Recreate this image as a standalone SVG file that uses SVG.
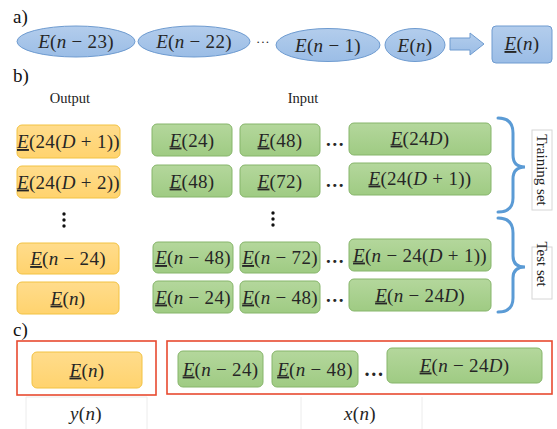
<svg xmlns="http://www.w3.org/2000/svg" width="557" height="429" viewBox="0 0 557 429">
<defs>
<linearGradient id="gb" x1="0" y1="0" x2="0" y2="1"><stop offset="0" stop-color="#b3cdec"/><stop offset="1" stop-color="#9bbde6"/></linearGradient>
<linearGradient id="go" x1="0" y1="0" x2="0" y2="1"><stop offset="0" stop-color="#ffdc8c"/><stop offset="1" stop-color="#ffd36e"/></linearGradient>
<linearGradient id="gg" x1="0" y1="0" x2="0" y2="1"><stop offset="0" stop-color="#b4d79c"/><stop offset="1" stop-color="#9fcb83"/></linearGradient>
</defs>
<style>
.m{font-family:"Liberation Serif","DejaVu Serif",serif;font-size:19px;letter-spacing:0.3px;fill:#262626;text-anchor:middle}
.i{font-style:italic}
.u{text-decoration:underline}
.lab{font-family:"Liberation Serif","DejaVu Serif",serif;font-size:19px;fill:#111}
.hd{font-family:"Liberation Serif","DejaVu Serif",serif;font-size:14.5px;fill:#222;text-anchor:middle}
.ell{fill:url(#gb);stroke:#6e9bd0;stroke-width:1}
.bl{fill:url(#gb);stroke:#6e9bd0;stroke-width:1}
.or{fill:url(#go);stroke:#f2c243;stroke-width:1}
.gr{fill:url(#gg);stroke:#86b56a;stroke-width:1}
.red{fill:none;stroke:#e84a30;stroke-width:1.6}
.br{fill:none;stroke:#5b9bd5;stroke-width:3;stroke-linecap:round}
.vb{fill:#fff;stroke:#d6d6d6;stroke-width:1}
.vt{font-family:"Liberation Serif","DejaVu Serif",serif;font-size:15px;fill:#222;text-anchor:middle}
.faint{stroke:#ececec;stroke-width:1;fill:none}
.dot{fill:#111}
</style>

<text class="lab" x="13" y="23">a)</text>
<text class="lab" x="13" y="82">b)</text>
<text class="lab" x="13" y="336">c)</text>

<g id="a-e23"><ellipse class="ell" cx="76" cy="41.5" rx="59" ry="15.5"/><text class="m" x="76" y="48"><tspan class="i">E</tspan>(<tspan class="i">n</tspan> − 23)</text></g>
<g id="a-e22"><ellipse class="ell" cx="194" cy="41.5" rx="56" ry="15.5"/><text class="m" x="194" y="48"><tspan class="i">E</tspan>(<tspan class="i">n</tspan> − 22)</text></g>
<text class="m" x="263" y="46" style="font-size:13px">···</text>
<g id="a-e1"><ellipse class="ell" cx="328" cy="45" rx="52" ry="16.5"/><text class="m" x="328" y="51.5"><tspan class="i">E</tspan>(<tspan class="i">n</tspan> − 1)</text></g>
<g id="a-en"><ellipse class="ell" cx="415" cy="45" rx="30" ry="16.5"/><text class="m" x="415" y="51.5"><tspan class="i">E</tspan>(<tspan class="i">n</tspan>)</text></g>
<g id="a-out"><rect class="bl" x="492" y="26" width="60" height="37" rx="4"/><text class="m" x="522" y="50"><tspan class="i u">E</tspan>(<tspan class="i">n</tspan>)</text></g>

<g id="connectors">
<polygon class="bl" points="450,38 470,38 470,33 484,44 470,55 470,50 450,50"/>
<path class="br" d="M498,118 Q513,118 513,133 L513,155 Q513,167 525,167 Q513,167 513,179 L513,198 Q513,212 498,212"/>
<path class="br" d="M498,218 Q513,218 513,233 L513,256 Q513,267 525,267 Q513,267 513,278 L513,298 Q513,312 498,312"/>
</g>

<text class="hd" x="70" y="103">Output</text>
<text class="hd" x="303" y="103">Input</text>

<g id="train-label"><rect class="vb" x="532" y="130" width="20" height="80"/><text class="vt" transform="translate(542,170) rotate(90)" y="5">Training set</text></g>
<g id="test-label"><rect class="vb" x="532" y="247" width="20" height="52"/><text class="vt" transform="translate(542,264) rotate(90)" y="5">Test set</text></g>

<!-- Row 1 -->
<g id="r1-out"><rect class="or" x="17" y="125" width="103" height="33" rx="5"/><text class="m" x="68.5" y="148"><tspan class="i u">E</tspan>(24(<tspan class="i">D</tspan> + 1))</text></g>
<g id="r1-c1"><rect class="gr" x="152" y="124" width="80" height="32" rx="5"/><text class="m" x="192" y="146.5"><tspan class="i u">E</tspan>(24)</text></g>
<g id="r1-c2"><rect class="gr" x="240" y="124" width="80" height="32" rx="5"/><text class="m" x="280" y="146.5"><tspan class="i u">E</tspan>(48)</text></g>
<text class="m" x="335" y="146" style="font-weight:bold">…</text>
<g id="r1-c3"><rect class="gr" x="349" y="123" width="142" height="32" rx="5"/><text class="m" x="420" y="144.5"><tspan class="i u">E</tspan>(24<tspan class="i">D</tspan>)</text></g>

<!-- Row 2 -->
<g id="r2-out"><rect class="or" x="17" y="166" width="103" height="32" rx="5"/><text class="m" x="68.5" y="188.5"><tspan class="i u">E</tspan>(24(<tspan class="i">D</tspan> + 2))</text></g>
<g id="r2-c1"><rect class="gr" x="152" y="165" width="80" height="32" rx="5"/><text class="m" x="192" y="187.5"><tspan class="i u">E</tspan>(48)</text></g>
<g id="r2-c2"><rect class="gr" x="240" y="165" width="80" height="32" rx="5"/><text class="m" x="280" y="187.5"><tspan class="i u">E</tspan>(72)</text></g>
<text class="m" x="335" y="187" style="font-weight:bold">…</text>
<g id="r2-c3"><rect class="gr" x="349" y="163" width="142" height="32" rx="5"/><text class="m" x="420" y="184.5"><tspan class="i u">E</tspan>(24(<tspan class="i">D</tspan> + 1))</text></g>

<!-- vertical ellipses -->
<circle class="dot" cx="64" cy="214" r="1.7"/><circle class="dot" cx="64" cy="220" r="1.7"/><circle class="dot" cx="64" cy="226" r="1.7"/>
<circle class="dot" cx="273" cy="213" r="1.7"/><circle class="dot" cx="273" cy="219" r="1.7"/><circle class="dot" cx="273" cy="225" r="1.7"/>

<!-- Row 3 -->
<g id="r3-out"><rect class="or" x="17" y="243" width="102" height="31" rx="5"/><text class="m" x="68" y="265"><tspan class="i u">E</tspan>(<tspan class="i">n</tspan> − 24)</text></g>
<g id="r3-c1"><rect class="gr" x="153" y="242" width="80" height="31" rx="5"/><text class="m" x="193" y="264"><tspan class="i u">E</tspan>(<tspan class="i">n</tspan> − 48)</text></g>
<g id="r3-c2"><rect class="gr" x="240" y="242" width="80" height="31" rx="5"/><text class="m" x="280" y="264"><tspan class="i u">E</tspan>(<tspan class="i">n</tspan> − 72)</text></g>
<text class="m" x="335" y="263" style="font-weight:bold">…</text>
<g id="r3-c3"><rect class="gr" x="349" y="239" width="142" height="32" rx="5"/><text class="m" x="420" y="261.5"><tspan class="i u">E</tspan>(<tspan class="i">n</tspan> − 24(<tspan class="i">D</tspan> + 1))</text></g>

<!-- Row 4 -->
<g id="r4-out"><rect class="or" x="17" y="282" width="102" height="32" rx="5"/><text class="m" x="68" y="304.5"><tspan class="i u">E</tspan>(<tspan class="i">n</tspan>)</text></g>
<g id="r4-c1"><rect class="gr" x="153" y="281" width="80" height="32" rx="5"/><text class="m" x="193" y="303.5"><tspan class="i u">E</tspan>(<tspan class="i">n</tspan> − 24)</text></g>
<g id="r4-c2"><rect class="gr" x="240" y="281" width="80" height="32" rx="5"/><text class="m" x="280" y="303.5"><tspan class="i u">E</tspan>(<tspan class="i">n</tspan> − 48)</text></g>
<text class="m" x="335" y="302" style="font-weight:bold">…</text>
<g id="r4-c3"><rect class="gr" x="349" y="279" width="142" height="32" rx="5"/><text class="m" x="420" y="301.5"><tspan class="i u">E</tspan>(<tspan class="i">n</tspan> − 24<tspan class="i">D</tspan>)</text></g>

<!-- c) -->
<rect class="red" x="17" y="341" width="139" height="54"/>
<rect class="red" x="167" y="341" width="385" height="53"/>
<g id="c-out"><rect class="or" x="32" y="352" width="110" height="36" rx="5"/><text class="m" x="87" y="376.5"><tspan class="i u">E</tspan>(<tspan class="i">n</tspan>)</text></g>
<g id="c-c1"><rect class="gr" x="178" y="351" width="85" height="36" rx="5"/><text class="m" x="220.5" y="375.5"><tspan class="i u">E</tspan>(<tspan class="i">n</tspan> − 24)</text></g>
<g id="c-c2"><rect class="gr" x="272" y="351" width="86" height="36" rx="5"/><text class="m" x="315" y="375.5"><tspan class="i u">E</tspan>(<tspan class="i">n</tspan> − 48)</text></g>
<text class="m" x="374" y="376" style="font-weight:bold;font-size:20px">…</text>
<g id="c-c3"><rect class="gr" x="387" y="348" width="155" height="35" rx="5"/><text class="m" x="464.5" y="371.5"><tspan class="i u">E</tspan>(<tspan class="i">n</tspan> − 24<tspan class="i">D</tspan>)</text></g>

<path class="faint" d="M26,429 V397 H147 V429"/>
<path class="faint" d="M301,397 V429 M422,397 V429"/>
<text class="m" x="86" y="420"><tspan class="i">y</tspan>(<tspan class="i">n</tspan>)</text>
<text class="m" x="360" y="420"><tspan class="i">x</tspan>(<tspan class="i">n</tspan>)</text>
</svg>
